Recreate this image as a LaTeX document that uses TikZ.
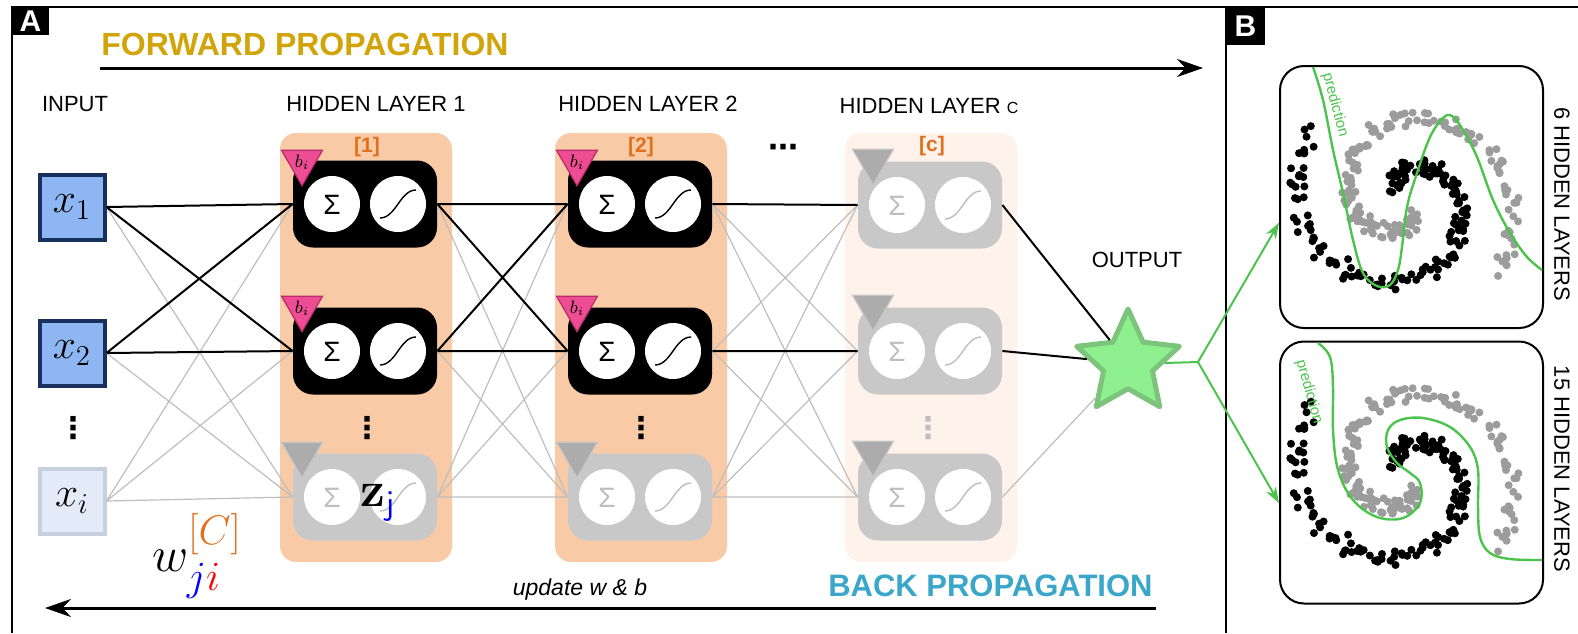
\documentclass[tikz,border=0pt]{standalone}
\usepackage[no-math]{fontspec}
\setmainfont{Liberation Sans}
\newfontfamily\symfont{DejaVu Sans}
\usepackage{amsmath,amssymb}
\usepackage{tikz}
\usetikzlibrary{positioning,arrows.meta,calc,shapes.geometric}
\definecolor{gold}{HTML}{D1A40A}
\definecolor{sky}{HTML}{3AA6C9}
\definecolor{rust}{HTML}{E0701E}
\definecolor{peach}{HTML}{F9CAA6}
\definecolor{paleorange}{HTML}{FEF2EA}
\definecolor{inblue}{HTML}{8DB6F2}
\definecolor{navy}{HTML}{18305E}
\definecolor{paleblue}{HTML}{E4EBF8}
\definecolor{palegrey}{HTML}{C9D0DD}
\definecolor{biaspink}{HTML}{EE4C93}
\definecolor{darkpink}{HTML}{B82B6A}
\definecolor{leaf}{HTML}{4CC34C}
\definecolor{starfill}{HTML}{8EEF8E}
\definecolor{starline}{HTML}{7CC47C}
\definecolor{wiregrey}{HTML}{BEBEBE}
\definecolor{cellgrey}{HTML}{C8C8C8}
\definecolor{dotgrey}{HTML}{9C9C9C}

\begin{document}
\begin{tikzpicture}[x=0.5pt, y=-0.5pt,
        layer/.style={rounded corners=8pt, minimum width=86pt, minimum height=214.5pt, inner sep=0pt},
        cell/.style 2 args={rounded corners=10pt, minimum width=72pt, minimum height=43.5pt,
                    inner sep=0pt, fill=#1,
                    path picture={
                      \begin{scope}[shift={(path picture bounding box.center)}, sharp corners]
                        \fill[white] (-33,0) circle (14pt);
                        \fill[white] (33,0) circle (14pt);
                        \node[text=#2, font=\fontsize{14}{14}\selectfont] at (-33,1) {Σ};
                        \draw[#2, line width=0.7pt] (15,14) .. controls (31,14) and (35,-14) .. (51,-14);
                      \end{scope}}},
        neuron/.style={cell={black}{black}},
        ghost/.style={cell={cellgrey}{wiregrey}},
        bias/.style={regular polygon, regular polygon sides=3, shape border rotate=180,
                    minimum size=23.7pt, inner sep=0pt, fill=biaspink, draw=darkpink,
                    line width=0.6pt, font=\fontsize{9}{9}\selectfont},
        nobias/.style={bias, fill=gray!65, draw=gray!45},
        inbox/.style={minimum size=32.5pt, inner sep=0pt, line width=2pt, font=\fontsize{21}{21}\selectfont},
        title/.style={font=\fontsize{11}{11}\selectfont},
        tag/.style={text=rust, font=\bfseries\fontsize{10.5}{10.5}\selectfont},
        more/.style={font=\symfont\bfseries\fontsize{15}{15}\selectfont, inner sep=0pt},
        wire/.style={line width=1pt},
        faint/.style={line width=0.6pt, wiregrey},
        panel/.style={fill=black, text=white, inner sep=0pt, font=\bfseries\fontsize{15}{15}\selectfont},
        chart/.style={draw, line width=1pt, rounded corners=12pt, minimum width=131.5pt,
                    minimum height=131pt, inner sep=0pt},
        guess/.style={leaf, line width=1.2pt},
      ]
        \useasboundingbox (0,0) rectangle (1578,633);
        % Frame and panel letters
        \draw[line width=1.2pt] (12,633) -- (12,7) -- (1578,7);
        \draw[line width=1.2pt] (1226,7) -- (1226,633);
        \node[panel, minimum width=18.5pt, minimum height=14pt] (labA) at (30.5,21) {A};
        \node[panel, minimum width=19.5pt, minimum height=19pt] (labB) at (1245.5,26) {B};
        % Forward propagation
        \node[font=\bfseries\fontsize{16}{16}\selectfont, text=gold, anchor=west, inner sep=0pt] (fwdtxt) at (101,44) {FORWARD PROPAGATION};
        \coordinate (fwdL) at (100,68);
        \coordinate (fwdR) at (1203,68);
        \draw[-{Stealth[length=13pt,width=9pt]}, line width=1.5pt] (fwdL) -- (fwdR);
        % Back propagation
        \node[font=\bfseries\fontsize{15.5}{15.5}\selectfont, text=sky, anchor=east, inner sep=0pt] (backtxt) at (1153,586) {BACK PROPAGATION};
        \node[font=\itshape\fontsize{11.5}{11.5}\selectfont] (upd) at (580,590) {update w \& b};
        \coordinate (backR) at (1156,608);
        \coordinate (backL) at (45,608);
        \draw[-{Stealth[length=13pt,width=9pt]}, line width=1.5pt] (backR) -- (backL);
        % Column titles
        \node[title] (tin) at (75,104) {INPUT};
        \node[title] (th1) at (376,104) {HIDDEN LAYER 1};
        \node[title] (th2) at (648,104) {HIDDEN LAYER 2};
        \node[title] (thc) at (929,106) {HIDDEN LAYER {\fontsize{8}{8}\selectfont C}};
        \node[title] (tout) at (1137,260) {OUTPUT};
        % Layer backgrounds
        \node[layer, fill=peach] (bg1) at (366,347.5) {};
        \node[layer, fill=peach] (bg2) at (641,347.5) {};
        \node[layer, fill=paleorange] (bgc) at (931,347.5) {};
        \node[tag] (tg1) at (367,147) {[1]};
        \node[tag] (tg2) at (641,147) {[2]};
        \node[tag] (tgc) at (932,146) {[c]};
        % Inputs
        \node[inbox, draw=navy, fill=inblue] (x1) at (72,207) {$x_1$};
        \node[inbox, draw=navy, fill=inblue] (x2) at (72,353) {$x_2$};
        \node[inbox, draw=palegrey, fill=paleblue] (xi) at (72,501) {$x_i$};
        \node[more] (dx) at (73,428) {⋮};
        % Hidden layer 1
        \node[neuron] (n11) at (365,204) {};
        \node[neuron] (n12) at (365,351) {};
        \node[ghost] (n13) at (365,497) {};
        \node[more] (d1) at (367,428) {⋮};
        % Hidden layer 2
        \node[neuron] (n21) at (640,204) {};
        \node[neuron] (n22) at (640,351) {};
        \node[ghost] (n23) at (640,497) {};
        \node[more] (d2) at (641,428) {⋮};
        \node[more] (hd) at (783,151) {⋯};
        % Hidden layer c
        \node[ghost] (nc1) at (930,205) {};
        \node[ghost] (nc2) at (930,351) {};
        \node[ghost] (nc3) at (930,497) {};
        \node[more, text=wiregrey] (dc) at (928,428) {⋮};
        % Biases
        \node[bias] (b11) at (302,162) {$b_i$};
        \node[bias] (b12) at (302,308) {$b_i$};
        \node[nobias] (b13) at (302,454) {};
        \node[bias] (b21) at (577,162) {$b_i$};
        \node[bias] (b22) at (577,308) {$b_i$};
        \node[nobias] (b23) at (577,454) {};
        \node[nobias] (bc1) at (873,161) {};
        \node[nobias] (bc2) at (873,307) {};
        \node[nobias] (bc3) at (873,453) {};
        % Output
        \node[star, star points=5, star point ratio=2.1, minimum size=54pt, inner sep=0pt,
              fill=starfill, draw=starline, line width=2.5pt, line join=round] (out) at (1128,363) {};
        % Weights input -> layer 1
        \draw[faint] (x1.east) -- (n13.west) (x2.east) -- (n13.west)
          (xi.east) -- (n11.west) (xi.east) -- (n12.west) (xi.east) -- (n13.west);
        \draw[wire] (x1.east) -- (n11.west) (x1.east) -- (n12.west)
          (x2.east) -- (n11.west) (x2.east) -- (n12.west);
        % Weights layer 1 -> layer 2
        \draw[faint] (n11.east) -- (n23.west) (n12.east) -- (n23.west)
          (n13.east) -- (n21.west) (n13.east) -- (n22.west) (n13.east) -- (n23.west);
        \draw[wire] (n11.east) -- (n21.west) (n11.east) -- (n22.west)
          (n12.east) -- (n21.west) (n12.east) -- (n22.west);
        % Weights layer 2 -> layer c
        \draw[faint] (n21.east) -- (nc2.west) (n21.east) -- (nc3.west)
          (n22.east) -- (nc1.west) (n22.east) -- (nc3.west)
          (n23.east) -- (nc1.west) (n23.east) -- (nc2.west) (n23.east) -- (nc3.west);
        \draw[wire] (n21.east) -- (nc1.west) (n22.east) -- (nc2.west);
        % Weights layer c -> output
        \draw[faint] (nc3.east) -- (out);
        \draw[wire] (nc1.east) -- (out) (nc2.east) -- (out);
        % Symbols
        \node[font=\fontsize{25}{25}\selectfont] (zj) at (378,503) {$\mathbf{z}_{\textcolor{blue}{\mathsf{j}}}$};
        \node[font=\fontsize{28}{28}\selectfont] (wji) at (197,556) {$w^{\textcolor{rust}{[C]}}_{\textcolor{blue}{j}\textcolor{red}{i}}$};
        % Panel B plots
        \node[chart] (plot6) at (1411.5,197) {};
        \node[chart] (plot15) at (1411.5,472.5) {};
        \foreach \cy in {200,475.5}{
          \pgfmathsetseed{42}
          \foreach \k in {0,...,159}{
            \pgfmathsetmacro{\ang}{125-\k*2.157}
            \pgfmathsetmacro{\rad}{18+0.29*(125-\ang)}
            \fill[dotgrey] ({1405-\rad*cos(\ang)+8*rand},{\cy+\rad*sin(\ang)+8*rand}) circle (2pt);
            \fill[black] ({1405+\rad*cos(\ang)+8*rand},{\cy-\rad*sin(\ang)+8*rand}) circle (2pt);
          }
        }
        \draw[guess] plot[smooth, tension=0.6] coordinates {(1313,67) (1323,100) (1333,150) (1343,193)
          (1353,240) (1363,273) (1377,286) (1390,285) (1398,270) (1402,247) (1407,207) (1417,173)
          (1430,137) (1443,118) (1452,116) (1463,130) (1477,157) (1493,200) (1510,233) (1527,257) (1542,270)};
        \draw[guess] plot[smooth, tension=0.6] coordinates {(1318,343) (1330,357) (1333,387) (1333,430)
          (1338,470) (1353,500) (1377,517) (1403,518) (1420,503) (1420,483) (1410,473) (1397,463)
          (1387,447) (1388,430) (1400,420) (1423,418) (1450,427) (1470,447) (1478,470) (1478,507)
          (1480,537) (1490,553) (1510,559) (1542,560)};
        \node[text=leaf, font=\fontsize{7.5}{7.5}\selectfont, rotate=-75] (pred6) at (1335,105) {prediction};
        \node[text=leaf, font=\fontsize{7.5}{7.5}\selectfont, rotate=-74] (pred15) at (1309,392) {prediction};
        \node[title, rotate=-90] (t6) at (1562,204) {6 HIDDEN LAYERS};
        \node[title, rotate=-90] (t15) at (1562,469) {15 HIDDEN LAYERS};
        % Output to plots
        \coordinate (fork) at (1198,362);
        \draw[leaf, line width=1pt] (out.east) -- (fork);
        \draw[leaf, line width=1pt, -{Stealth[length=8pt,width=5.5pt]}] (fork) -- (plot6.191);
        \draw[leaf, line width=1pt, -{Stealth[length=8pt,width=5.5pt]}] (fork) -- (plot15.193);
      \end{tikzpicture}
\end{document}
